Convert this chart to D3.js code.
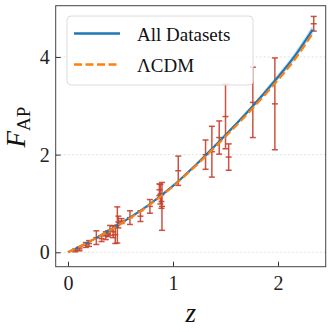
<!DOCTYPE html>
<html>
<head>
<meta charset="utf-8">
<script src="https://cdn.jsdelivr.net/npm/d3@7"></script>
<style>
  body { margin: 0; background: #fff; }
  svg text { font-family: "Liberation Serif", "Times New Roman", "DejaVu Serif", serif; }
</style>
</head>
<body>
<div id="chart"></div>
<script>
// measurements: redshift, F_AP, 1-sigma error
const zObs = [0.07, 0.11, 0.17, 0.20, 0.27, 0.32, 0.36, 0.38, 0.40, 0.43, 0.45, 0.47, 0.48, 0.51, 0.59,
              0.69, 0.78, 0.87, 0.88, 0.89, 0.895, 1.05, 1.31, 1.37, 1.44, 1.50, 1.53, 1.76, 1.97, 2.34];
const fObs = [0.04, 0.07, 0.15, 0.18, 0.30, 0.28, 0.34, 0.38, 0.45, 0.42, 0.36, 0.56, 0.62, 0.64, 0.71,
              0.74, 0.94, 1.28, 1.19, 1.04, 0.94, 1.67, 2.00, 2.06, 2.35, 2.78, 1.95, 3.07, 3.04, 4.68];
const errObs = [0.03, 0.04, 0.05, 0.06, 0.14, 0.06, 0.08, 0.06, 0.10, 0.12, 0.18, 0.37, 0.12, 0.05, 0.14,
                0.11, 0.14, 0.12, 0.20, 0.14, 0.49, 0.30, 0.30, 0.52, 0.34, 0.66, 0.27, 0.72, 0.94, 0.15];

// model curves
const zModel = [0, 0.25, 0.5, 0.75, 1.0, 1.25, 1.5, 1.75, 2.0, 2.15, 2.33];
const fAll   = [0, 0.27, 0.59, 0.94, 1.36, 1.86, 2.40, 2.97, 3.59, 3.99, 4.56];
const fAllLo = [0, 0.27, 0.58, 0.93, 1.35, 1.84, 2.37, 2.93, 3.53, 3.92, 4.47];
const fAllHi = [0, 0.27, 0.60, 0.95, 1.37, 1.88, 2.43, 3.01, 3.65, 4.06, 4.65];
const fLCDM  = [0, 0.27, 0.58, 0.93, 1.35, 1.84, 2.37, 2.93, 3.53, 3.92, 4.48];

const xTicks = [0, 1, 2];
const yTicks = [0, 2, 4];

const W = 332, H = 332;
const margin = { top: 5.7, right: 6.3, bottom: 65.3, left: 55.7 };
const width = W - margin.left - margin.right;
const height = H - margin.top - margin.bottom;

const svg = d3.select("#chart").append("svg")
    .attr("width", W)
    .attr("height", H);

const g = svg.append("g")
    .attr("transform", `translate(${margin.left},${margin.top})`);

const x = d3.scaleLinear().domain([-0.117, 2.454]).range([0, width]);
const y = d3.scaleLinear().domain([-0.295, 5.05]).range([height, 0]);

// horizontal grid
g.selectAll(".grid")
    .data(yTicks)
    .enter().append("line")
    .attr("x1", 0).attr("x2", width)
    .attr("y1", d => y(d)).attr("y2", d => y(d))
    .attr("stroke", "#d9d9d9")
    .attr("stroke-width", 0.8)
    .attr("stroke-dasharray", "2,2");

// confidence band for the combined fit
const band = zModel.map((z, i) => ({ z: z, lo: fAllLo[i], hi: fAllHi[i] }));
g.append("path")
    .datum(band)
    .attr("fill", "#1f77b4")
    .attr("fill-opacity", 0.25)
    .attr("d", d3.area()
        .x(d => x(d.z))
        .y0(d => y(d.lo))
        .y1(d => y(d.hi))
        .curve(d3.curveCatmullRom));

// error bars
const obs = zObs.map((z, i) => ({ z: z, f: fObs[i], e: errObs[i] }));
const errColor = "#c5402e";
const bars = g.selectAll(".errbar")
    .data(obs)
    .enter().append("g")
    .attr("class", "errbar")
    .attr("stroke", errColor)
    .attr("stroke-opacity", 0.9)
    .attr("stroke-width", 1.5);

bars.append("line")
    .attr("x1", d => x(d.z)).attr("x2", d => x(d.z))
    .attr("y1", d => y(d.f - d.e)).attr("y2", d => y(d.f + d.e));
[-1, 0, 1].forEach(s => {
    bars.append("line")
        .attr("x1", d => x(d.z) - 3).attr("x2", d => x(d.z) + 3)
        .attr("y1", d => y(d.f + s * d.e)).attr("y2", d => y(d.f + s * d.e));
});

// model lines
const allLine = d3.line()
    .x((d, i) => x(zModel[i]))
    .y(d => y(d))
    .curve(d3.curveCatmullRom);

g.append("path")
    .datum(fAll)
    .attr("fill", "none")
    .attr("stroke", "#1f77b4")
    .attr("stroke-width", 2.2)
    .attr("d", allLine);

g.append("path")
    .datum(fLCDM)
    .attr("fill", "none")
    .attr("stroke", "#ff7f0e")
    .attr("stroke-width", 2.2)
    .attr("stroke-dasharray", "8,3.5")
    .attr("d", allLine);

// axes, ticks pointing inward
const xAxis = g.append("g")
    .attr("transform", `translate(0,${height})`)
    .call(d3.axisBottom(x).tickValues(xTicks).tickFormat(d3.format("d"))
        .tickSizeInner(-5).tickSizeOuter(0).tickPadding(9));
const yAxis = g.append("g")
    .call(d3.axisLeft(y).tickValues(yTicks).tickFormat(d3.format("d"))
        .tickSizeInner(-5).tickSizeOuter(0).tickPadding(6));

[xAxis, yAxis].forEach(a => {
    a.attr("font-family", null);
    a.select(".domain").remove();
    a.selectAll(".tick line").attr("stroke", "#333").attr("stroke-width", 1);
    a.selectAll(".tick text")
        .attr("font-size", 20)
        .attr("fill", "#222");
});

// frame
g.append("rect")
    .attr("width", width)
    .attr("height", height)
    .attr("fill", "none")
    .attr("stroke", "#444")
    .attr("stroke-width", 1);

// legend
const leg = g.append("g").attr("transform", `translate(${67 - margin.left},${16 - margin.top})`);
leg.append("rect")
    .attr("width", 186)
    .attr("height", 69)
    .attr("rx", 4)
    .attr("fill", "#fff")
    .attr("fill-opacity", 0.8)
    .attr("stroke", "#dcdcdc")
    .attr("stroke-width", 1);

const legItems = [
    { label: "All Datasets", color: "#1f77b4", dash: null, w: 2.4 },
    { label: "\u039BCDM", color: "#ff7f0e", dash: "8,3.5", w: 2.4 }
];
legItems.forEach((d, i) => {
    const yy = 17.5 + i * 31;
    leg.append("line")
        .attr("x1", 7).attr("x2", 53)
        .attr("y1", yy).attr("y2", yy)
        .attr("stroke", d.color)
        .attr("stroke-width", d.w)
        .attr("stroke-dasharray", d.dash);
    leg.append("text")
        .attr("x", 70)
        .attr("y", yy + 7)
        .attr("font-size", 19)
        .attr("fill", "#111")
        .text(d.label);
});

// axis labels
svg.append("text")
    .attr("x", margin.left + width / 2)
    .attr("y", 322)
    .attr("text-anchor", "middle")
    .attr("font-size", 27)
    .attr("font-style", "italic")
    .attr("fill", "#111")
    .text("z");

const yl = svg.append("text")
    .attr("transform", `translate(25,${127}) rotate(-90)`)
    .attr("text-anchor", "middle")
    .attr("fill", "#111")
    .attr("font-size", 27);
yl.append("tspan").attr("font-style", "italic").text("F");
yl.append("tspan").attr("dy", 5).attr("font-size", 19).text("AP");
</script>
</body>
</html>
